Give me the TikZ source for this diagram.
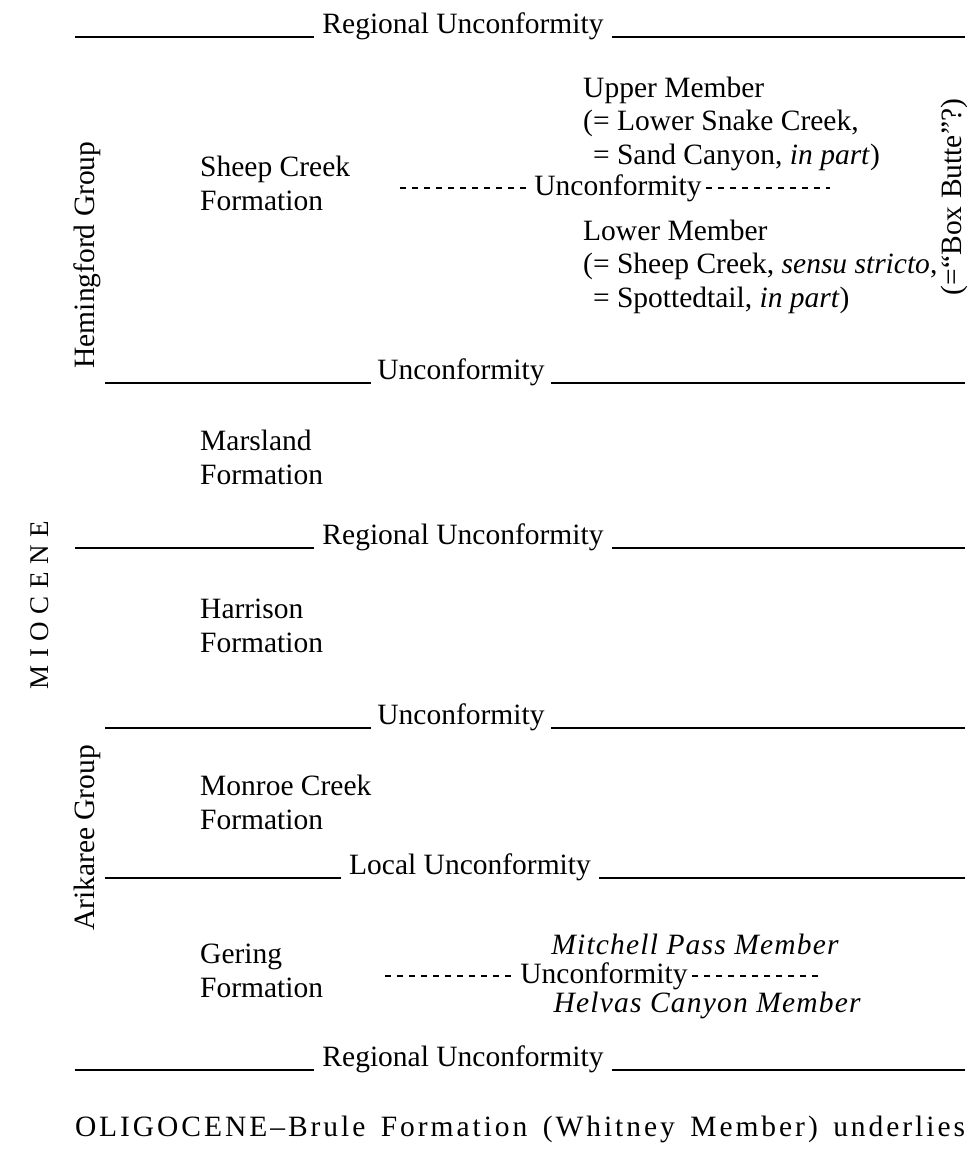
\documentclass[tikz,border=0pt]{standalone}
\usepackage{fontspec}
\setmainfont{Liberation Serif}
\begin{document}
\begin{tikzpicture}[x=1pt,y=-1pt,
  txt/.style={inner sep=0pt,anchor=base west,font=\fontsize{29.5}{33.5}\selectfont},
  ctxt/.style={inner sep=0pt,anchor=base,font=\fontsize{29.5}{33.5}\selectfont},
  rule/.style={line width=2.8pt},
  dashrule/.style={line width=1.1pt,dash pattern=on 6pt off 6pt},
  grp/.style={inner sep=0pt,rotate=90,font=\fontsize{29.5}{33.5}\selectfont}]
\useasboundingbox (0,0) rectangle (968,1173);

% ---- Line 1: Regional Unconformity
\node[ctxt] (ru1) at (463,33) {Regional Unconformity};
\coordinate (l1a) at (75,37);
\coordinate (l1b) at (965,37);
\draw[rule] (l1a) -- ([xshift=-8pt]l1a -| ru1.west);
\draw[rule] ([xshift=8pt]l1b -| ru1.east) -- (l1b);

% ---- Sheep Creek Formation
\node[txt,align=left] (shc) at (200,210) {Sheep Creek\\Formation};
\node[txt,align=left] (upm) at (583,164) {Upper Member\\(= Lower Snake Creek,\\\phantom{(}= Sand Canyon, \textit{in part})};
\node[ctxt] (uc1) at (618,195) {Unconformity};
\coordinate (d1a) at (400,188);
\coordinate (d1b) at (830,188);
\draw[dashrule] (d1a) -- ([xshift=-4pt]d1a -| uc1.west);
\draw[dashrule] ([xshift=4pt]d1b -| uc1.east) -- (d1b);
\node[txt,align=left] (lwm) at (583,307) {Lower Member\\(= Sheep Creek, \textit{sensu stricto},\\\phantom{(}= Spottedtail, \textit{in part})};
\node[grp] (bb) at (954,197) {(=“Box Butte”?)};
\node[grp] (hem) at (87,255) {Hemingford Group};

% ---- Line 2: Unconformity
\node[ctxt] (uc2) at (461,379) {Unconformity};
\coordinate (l2a) at (105,383);
\coordinate (l2b) at (965,383);
\draw[rule] (l2a) -- ([xshift=-6pt]l2a -| uc2.west);
\draw[rule] ([xshift=6pt]l2b -| uc2.east) -- (l2b);

% ---- Marsland
\node[txt,align=left] (mar) at (200,484) {Marsland\\Formation};

\node[grp,font=\fontsize{27}{30}\selectfont\addfontfeature{LetterSpace=28}] (mio) at (40,605) {MIOCENE};

% ---- Line 3
\node[ctxt] (ru2) at (463,544) {Regional Unconformity};
\coordinate (l3a) at (75,548);
\coordinate (l3b) at (965,548);
\draw[rule] (l3a) -- ([xshift=-8pt]l3a -| ru2.west);
\draw[rule] ([xshift=8pt]l3b -| ru2.east) -- (l3b);

% ---- Harrison
\node[txt,align=left] (har) at (200,652) {Harrison\\Formation};

% ---- Line 4
\node[ctxt] (uc3) at (461,724) {Unconformity};
\coordinate (l4a) at (105,728);
\coordinate (l4b) at (965,728);
\draw[rule] (l4a) -- ([xshift=-6pt]l4a -| uc3.west);
\draw[rule] ([xshift=6pt]l4b -| uc3.east) -- (l4b);

\node[grp] (ari) at (87,838) {Arikaree Group};

% ---- Monroe Creek
\node[txt,align=left] (mon) at (200,829) {Monroe Creek\\Formation};

% ---- Line 5
\node[ctxt] (lu) at (470,874) {Local Unconformity};
\coordinate (l5a) at (105,878);
\coordinate (l5b) at (965,878);
\draw[rule] (l5a) -- ([xshift=-8pt]l5a -| lu.west);
\draw[rule] ([xshift=8pt]l5b -| lu.east) -- (l5b);

% ---- Gering
\node[txt,align=left] (ger) at (200,997) {Gering\\Formation};
\node[txt,anchor=base east] (mpm) at (840,954) {\addfontfeature{LetterSpace=4}\textit{Mitchell Pass Member}};
\node[ctxt] (uc4) at (604,983) {Unconformity};
\coordinate (d2a) at (385,976);
\coordinate (d2b) at (818,976);
\draw[dashrule] (d2a) -- ([xshift=-4pt]d2a -| uc4.west);
\draw[dashrule] ([xshift=4pt]d2b -| uc4.east) -- (d2b);
\node[txt,anchor=base east] (hcm) at (862,1012) {\addfontfeature{LetterSpace=4}\textit{Helvas Canyon Member}};

% ---- Line 6
\node[ctxt] (ru3) at (463,1066) {Regional Unconformity};
\coordinate (l6a) at (75,1070);
\coordinate (l6b) at (965,1070);
\draw[rule] (l6a) -- ([xshift=-8pt]l6a -| ru3.west);
\draw[rule] ([xshift=8pt]l6b -| ru3.east) -- (l6b);

\node[ctxt] (oli) at (520,1136) {\addfontfeature{LetterSpace=10}\makebox[890pt][s]{OLIGOCENE–Brule Formation (Whitney Member) underlies}};
\end{tikzpicture}
\end{document}
